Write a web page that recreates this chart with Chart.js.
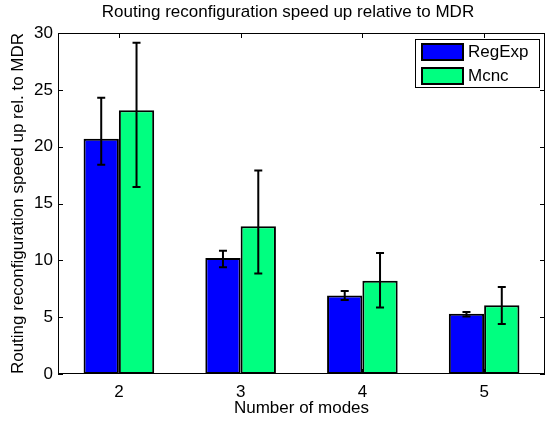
<!DOCTYPE html>
<html>
<head>
<meta charset="utf-8">
<script src="https://cdn.jsdelivr.net/npm/chart.js@4"></script>
<style>
  html, body { margin: 0; padding: 0; background: #fff; }
  #wrap { width: 548px; height: 424px; }
</style>
</head>
<body>
<div id="wrap"><canvas id="grafico" width="548" height="424"></canvas></div>
<script>
// Dados
const modos = ['2', '3', '4', '5'];
const regExpMedia = [20.7, 10.2, 6.9, 5.3];
const regExpMin = [18.4, 9.4, 6.5, 5.05];
const regExpMax = [24.3, 10.85, 7.3, 5.45];
const mcncMedia = [23.2, 13.0, 8.2, 6.05];
const mcncMin = [16.45, 8.85, 5.85, 4.4];
const mcncMax = [29.15, 17.9, 10.65, 7.65];

const fonte = '"Liberation Sans", Helvetica, Arial, sans-serif';
const tituloGrafico = 'Routing reconfiguration speed up relative to MDR';

// barras de erro
const pluginErro = {
  id: 'barrasErro',
  afterDatasetsDraw(chart) {
    const ctx = chart.ctx;
    const y = chart.scales.y;
    const limites = [[regExpMin, regExpMax], [mcncMin, mcncMax]];
    ctx.save();
    ctx.strokeStyle = '#000';
    ctx.lineWidth = 2;
    chart.data.datasets.forEach((ds, d) => {
      const meta = chart.getDatasetMeta(d);
      meta.data.forEach((barra, i) => {
        const x = barra.x;
        const yMin = y.getPixelForValue(limites[d][0][i]);
        const yMax = y.getPixelForValue(limites[d][1][i]);
        ctx.beginPath();
        ctx.moveTo(x, yMin); ctx.lineTo(x, yMax);
        ctx.moveTo(x - 4, yMin); ctx.lineTo(x + 4, yMin);
        ctx.moveTo(x - 4, yMax); ctx.lineTo(x + 4, yMax);
        ctx.stroke();
      });
    });
    ctx.restore();
  }
};

// caixa dos eixos, marcas internas, título e legenda
const pluginMoldura = {
  id: 'moldura',
  afterDraw(chart) {
    const ctx = chart.ctx;
    const a = chart.chartArea;
    const x = chart.scales.x;
    const y = chart.scales.y;
    ctx.save();
    ctx.strokeStyle = '#000';
    ctx.lineWidth = 1;
    ctx.strokeRect(a.left + 0.5, a.top + 0.5, a.right - a.left - 1, a.bottom - a.top - 1);

    ctx.beginPath();
    y.ticks.forEach(t => {
      const py = Math.round(y.getPixelForValue(t.value)) + 0.5;
      ctx.moveTo(a.left, py); ctx.lineTo(a.left + 5, py);
      ctx.moveTo(a.right, py); ctx.lineTo(a.right - 5, py);
    });
    modos.forEach((m, i) => {
      const px = Math.round(x.getPixelForTick(i)) + 0.5;
      ctx.moveTo(px, a.top); ctx.lineTo(px, a.top + 5);
      ctx.moveTo(px, a.bottom); ctx.lineTo(px, a.bottom - 5);
    });
    ctx.stroke();

    // título
    ctx.fillStyle = '#000';
    ctx.font = '17px ' + fonte;
    ctx.textAlign = 'center';
    ctx.textBaseline = 'middle';
    ctx.fillText(tituloGrafico, 288, 12);

    // legenda
    const lx = 415, ly = 39, lw = 124, lh = 48;
    ctx.fillStyle = '#fff';
    ctx.fillRect(lx, ly, lw, lh);
    ctx.lineWidth = 1;
    ctx.strokeRect(lx + 0.5, ly + 0.5, lw, lh);
    ctx.textAlign = 'left';
    chart.data.datasets.forEach((ds, d) => {
      const sy = ly + 5 + d * 24;
      ctx.fillStyle = ds.backgroundColor;
      ctx.fillRect(lx + 7, sy, 41, 16);
      ctx.lineWidth = 2;
      ctx.strokeRect(lx + 7, sy, 41, 16);
      ctx.fillStyle = '#000';
      ctx.fillText(ds.label, lx + 53, sy + 8);
    });
    ctx.restore();
  }
};

const grafico = new Chart(document.getElementById('grafico'), {
  type: 'bar',
  data: {
    labels: modos,
    datasets: [
      {
        label: 'RegExp', data: regExpMedia, backgroundColor: '#0000ff',
        borderColor: '#000', borderWidth: 2, borderSkipped: false,
        categoryPercentage: 0.58, barPercentage: 1
      },
      {
        label: 'Mcnc', data: mcncMedia, backgroundColor: '#00ff80',
        borderColor: '#000', borderWidth: 2, borderSkipped: false,
        categoryPercentage: 0.58, barPercentage: 1
      }
    ]
  },
  options: {
    responsive: false, animation: false,
    layout: { padding: { top: 33, right: 3, left: 0, bottom: 0 } },
    plugins: { legend: { display: false }, title: { display: false }, tooltip: { enabled: false } },
    scales: {
      x: {
        grid: { display: false, drawTicks: false }, border: { display: false },
        ticks: { color: '#000', font: { size: 17, family: fonte }, padding: 8 },
        title: { display: true, text: 'Number of modes', color: '#000', font: { size: 17, family: fonte }, padding: { top: 0, bottom: 5 } },
        afterFit: s => { s.height = 50; }
      },
      y: {
        min: 0, max: 30,
        grid: { display: false, drawTicks: false }, border: { display: false },
        ticks: { stepSize: 5, color: '#000', font: { size: 17, family: fonte }, padding: 5 },
        title: { display: true, text: 'Routing reconfiguration speed up rel. to MDR', color: '#000', font: { size: 17, family: fonte }, padding: { top: 8, bottom: 0 } },
        afterFit: s => { s.width = 58; }
      }
    }
  },
  plugins: [pluginErro, pluginMoldura]
});
</script>
</body>
</html>
